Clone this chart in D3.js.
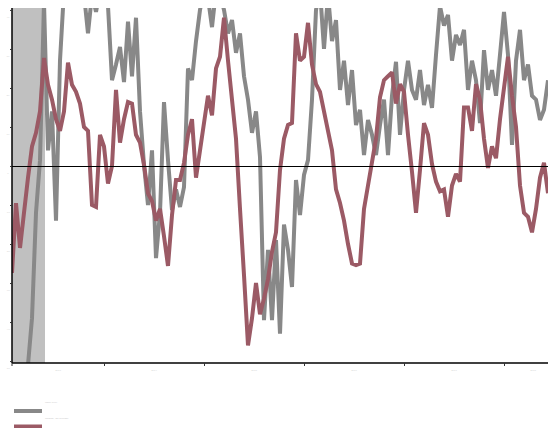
<!DOCTYPE html>
<html>
<head>
<meta charset="utf-8">
<script src="https://cdn.jsdelivr.net/npm/d3@7/dist/d3.min.js"></script>
<style>
  html, body { margin: 0; padding: 0; background: #ffffff; }
  svg { display: block; }
</style>
</head>
<body>
<script>
// Two fortnightly series, 2013–2018, on a shared scale
const seriesNames = ["Index level", "Change, 3m average"];
const seriesColors = ["#888888", "#9b5a65"];
const yearLabels = [2013, 2014, 2015, 2016, 2017, 2018];
const yTickValues = [-50, -40, -30, -20, -10, 0, 10, 20, 30, 40];
const startYear = 2013.08;
const stepYears = 0.04;
const domainEnd = 2018.58;
const shadeFrom = 2013.08, shadeTo = 2013.41;

const greyValues = [
  -56, -56, -56, -56, -51, -39, -12, 1.5, 42, 4,
  14, -14, 27, 45, 45, 46, 47, 46, 44, 34,
  44, 39.5, 45, 46, 41, 22, 26, 30.5, 21.5, 37,
  23, 38, 14, 0.3, -10, 4, -23.6, -12, 16.4, 1.5,
  -11.3, -6, -10.5, -5.4, 25, 22, 32, 40, 45, 43,
  35.6, 45, 44, 40, 34, 37.4, 29, 34, 23, 17,
  8.5, 14, 2.3, -39.5, -21.5, -39.5, -19, -43, -15, -21.5,
  -31, -3.6, -12.6, -2.3, 1.5, 17, 40, 45, 30, 44,
  32, 37.4, 19.5, 27, 15.6, 24.6, 10.5, 14.4, 2.8, 11.8,
  8, 2.8, 10.5, 17, 2.8, 18, 26.7, 8, 19.5, 27,
  19.5, 17, 24.6, 15.6, 20.8, 14.9, 28.5, 41, 36, 38.7,
  27, 33.6, 31, 34.9, 19.5, 27, 22, 11, 29.7, 19.5,
  24.6, 18, 28.5, 39.5, 28.5, 5.4, 27, 34.9, 22, 26,
  18, 17, 11.8, 14.4, 22
];

const maroonValues = [
  -27.4, -9.5, -21, -12, -3, 5, 8.5, 14, 27.7, 20.8,
  17, 12, 9, 14, 26.5, 20.8, 19, 16, 10, 9,
  -10, -10.5, 8, 5, -4.5, 0, 19.5, 6, 12, 16.4,
  16, 8, 6, 0.3, -7, -9, -14, -11, -18, -25.6,
  -12.6, -3.6, -3.6, 0.8, 8, 12, -3, 4, 11, 18,
  13, 25, 28, 38, 27, 17, 7, -11, -28, -46,
  -39, -30, -38, -34, -29, -22, -17, -1, 7, 10.5,
  11, 34, 27, 28, 36.7, 26, 21, 19, 14, 9,
  4, -6, -9.5, -14, -20, -25, -25.4, -25, -11, -5,
  1, 7, 17.6, 22, 23, 24, 16, 21, 19, 8,
  -1.5, -12, -1, 11, 8, 0.5, -4, -6.5, -6, -13,
  -5, -2, -4, 15, 15, 9, 21, 17, 7, -0.5,
  5, 2, 12, 20, 28, 18, 10, -5, -12, -13,
  -17, -11, -3, 0.8, -7
];

const W = 548, H = 428;
const plot = { left: 12, top: 8, bottom: 363, right: 562 };

const svg = d3.select("body").append("svg")
  .attr("width", W).attr("height", H)
  .style("font-family", "Arial, 'Liberation Sans', sans-serif");

const x = d3.scaleLinear().domain([startYear, domainEnd]).range([plot.left, plot.right]);
const y = d3.scaleLinear().domain([-50.5, 40.5]).range([plot.bottom, plot.top]);

svg.append("defs").append("clipPath").attr("id", "plotclip")
  .append("rect")
  .attr("x", plot.left).attr("y", plot.top)
  .attr("width", W - plot.left).attr("height", plot.bottom - plot.top);

// shaded period
svg.append("rect")
  .attr("x", x(shadeFrom)).attr("y", plot.top)
  .attr("width", x(shadeTo) - x(shadeFrom))
  .attr("height", plot.bottom - plot.top)
  .attr("fill", "#c0c0c0");

const line = d3.line()
  .x((d, i) => x(startYear + i * stepYears))
  .y(d => y(d));

const g = svg.append("g").attr("clip-path", "url(#plotclip)");
[greyValues, maroonValues].forEach((vals, k) => {
  g.append("path")
    .datum(vals)
    .attr("d", line)
    .attr("fill", "none")
    .attr("stroke", seriesColors[k])
    .attr("stroke-width", 4)
    .attr("stroke-linejoin", "miter")
    .attr("stroke-miterlimit", 2);
});

// zero reference line, drawn over the series
const y0 = Math.round(y(0)) + 0.5;
svg.append("line")
  .attr("x1", plot.left).attr("x2", W)
  .attr("y1", y0).attr("y2", y0)
  .attr("stroke", "#000").attr("stroke-width", 1);

// y axis
const yAxis = svg.append("g").attr("transform", `translate(${plot.left},0)`)
  .call(d3.axisLeft(y).tickValues(yTickValues).tickSize(2).tickFormat(""));
yAxis.select(".domain").attr("stroke", "#000").attr("stroke-width", 1.5)
  .attr("d", `M0,${plot.top}V${plot.bottom}`);
yAxis.selectAll(".tick line").attr("stroke", "#333");
svg.append("g").selectAll("text").data(yTickValues).join("text")
  .attr("x", 8).attr("y", d => y(d) + 8)
  .attr("text-anchor", "middle")
  .attr("font-size", 2.5).attr("fill", "#d4d4d4")
  .text(d => d);

// x axis
const xAxis = svg.append("g").attr("transform", `translate(0,${plot.bottom})`)
  .call(d3.axisBottom(x).tickValues(yearLabels.slice(1)).tickSize(3).tickFormat(""));
xAxis.select(".domain").attr("stroke", "#000").attr("stroke-width", 1.5)
  .attr("d", `M${plot.left},0H${W}`);
xAxis.selectAll(".tick line").attr("stroke", "#333");
xAxis.append("line").attr("x1", plot.left).attr("x2", plot.left)
  .attr("y1", 0).attr("y2", 3).attr("stroke", "#333");
svg.append("g").selectAll("text").data(yearLabels).join("text")
  .attr("x", d => x((Math.max(d, startYear) + Math.min(d + 1, domainEnd)) / 2))
  .attr("y", plot.bottom + 8)
  .attr("text-anchor", "middle")
  .attr("font-size", 2.5).attr("fill", "#d4d4d4")
  .text(d => d);

// legend
const legend = svg.append("g");
seriesNames.forEach((name, k) => {
  const ly = 411 + k * 15.5;
  legend.append("line")
    .attr("x1", 14).attr("x2", 42).attr("y1", ly).attr("y2", ly)
    .attr("stroke", seriesColors[k]).attr("stroke-width", 4);
  legend.append("text")
    .attr("x", 45).attr("y", ly - 8)
    .attr("font-size", 2.5).attr("fill", "#c8c8c8")
    .text(name);
});
</script>
</body>
</html>
